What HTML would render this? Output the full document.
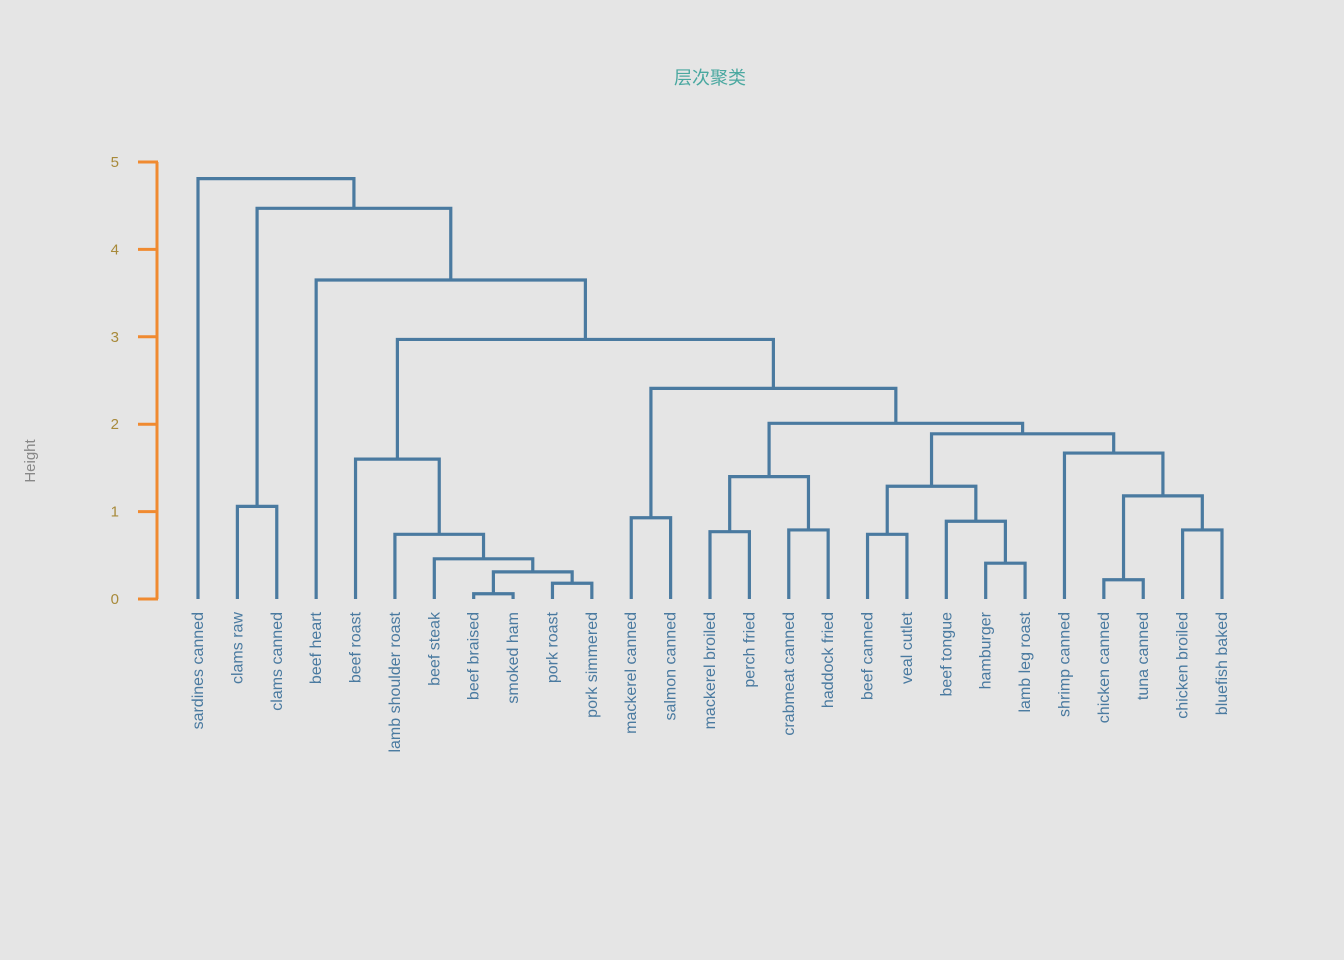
<!DOCTYPE html>
<html><head><meta charset="utf-8"><style>
body{margin:0;background:#e5e5e5;}
svg{display:block;font-family:"Liberation Sans","Noto Sans CJK SC",sans-serif;}
</style></head><body>
<svg id="chart" width="1344" height="960">
<rect width="1344" height="960" fill="#e5e5e5"/>
<text x="710" y="84" text-anchor="middle" font-size="18" fill="#4aa8a0">层次聚类</text>
<text transform="translate(35,461) rotate(-90)" text-anchor="middle" font-size="15" fill="#888">Height</text>
<g id="axis"></g><g id="links"></g><g id="labels"></g>
</svg>
<script>
const leaves=["sardines canned","clams raw","clams canned","beef heart","beef roast","lamb shoulder roast","beef steak","beef braised","smoked ham","pork roast","pork simmered","mackerel canned","salmon canned","mackerel broiled","perch fried","crabmeat canned","haddock fried","beef canned","veal cutlet","beef tongue","hamburger","lamb leg roast","shrimp canned","chicken canned","tuna canned","chicken broiled","bluefish baked"];
// merges: negative = leaf index (-(i+1)), positive = earlier merge index (1-based)
const mergeLeft=[-8,-10,1,-7,-6,-5,-2,-12,-14,-16,9,-18,-21,-20,12,-24,-26,16,-23,15,11,8,6,-4,7,-1];
const mergeRight=[-9,-11,2,3,4,5,-3,-13,-15,-17,10,-19,-22,13,14,-25,-27,17,18,19,20,21,22,23,24,25];
const mergeHeight=[0.06,0.18,0.31,0.46,0.74,1.60,1.06,0.93,0.77,0.79,1.40,0.74,0.41,0.89,1.29,0.22,0.79,1.18,1.67,1.89,2.01,2.41,2.97,3.65,4.47,4.81];
const yTicks=[0,1,2,3,4,5];
const x0=198,dx=(1222-198)/(leaves.length-1);
const y=v=>599-v*87.4;
const xl=i=>x0+i*dx;
const NS="http://www.w3.org/2000/svg";
function mk(t,a,p){const e=document.createElementNS(NS,t);for(const k in a)e.setAttribute(k,a[k]);document.getElementById(p).appendChild(e);return e;}
let ax=mk("line",{x1:157,x2:157,y1:y(0),y2:y(5),stroke:"#f08a30","stroke-width":3},"axis");


yTicks.forEach(t=>{
 let l=mk("line",{x1:138,x2:158,y1:y(t),y2:y(t),stroke:"#f08a30","stroke-width":3},"axis");
 
 
 let tx=mk("text",{x:119,y:y(t)+5,"text-anchor":"end","font-size":15,fill:"#a88a3a"},"axis");tx.textContent=t;
 
 
});
const pos=[],hgt=[];
function node(r){return r<0?{x:xl(-r-1),h:0}:{x:pos[r-1],h:hgt[r-1]};}
for(let i=0;i<mergeHeight.length;i++){
 const a=node(mergeLeft[i]),b=node(mergeRight[i]);
 pos[i]=(a.x+b.x)/2;hgt[i]=mergeHeight[i];
 const p=mk("path",{d:`M${a.x},${y(a.h)}V${y(mergeHeight[i])}H${b.x}V${y(b.h)}`,fill:"none",stroke:"#4a7aa0","stroke-width":3.2},"links");
 
 
}
leaves.forEach((n,i)=>{
 const t=mk("text",{transform:`translate(${xl(i)+5},612) rotate(-90)`,"text-anchor":"end","font-size":16,fill:"#4a7aa0"},"labels");
 t.textContent=n;
 
 
});
</script>
</body></html>
